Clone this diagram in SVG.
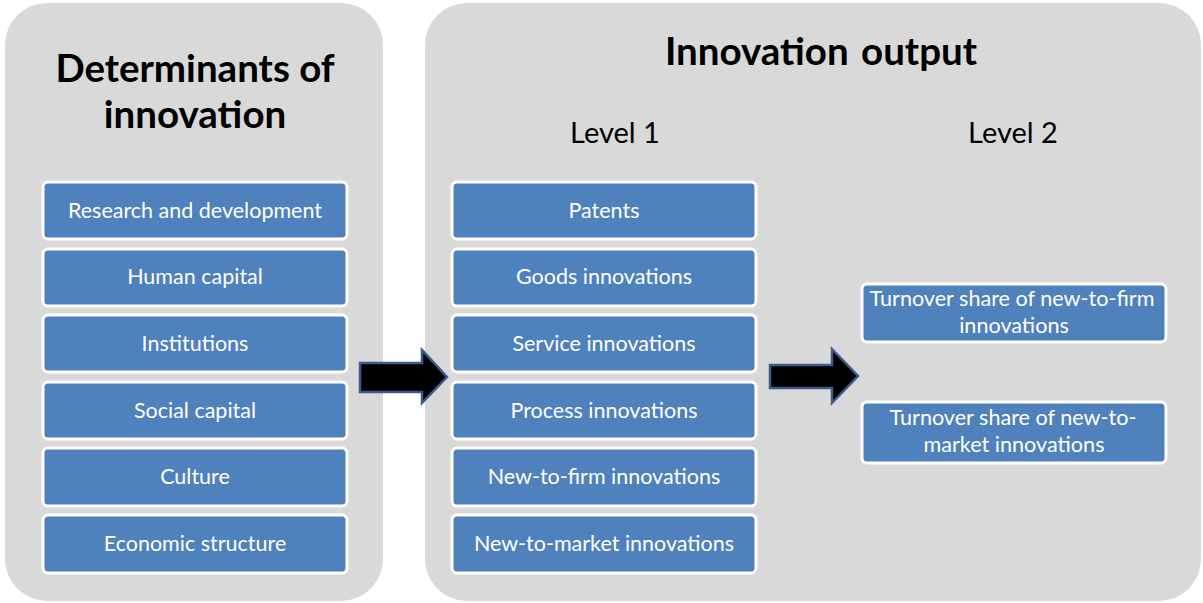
<svg xmlns="http://www.w3.org/2000/svg" width="1203" height="603" viewBox="0 0 1203 603">
<style>
.panel{fill:#d9d9d9}
.box{fill:#4f81bd;stroke:#ffffff;stroke-width:3}
.bt{font-family:Lato,"Liberation Sans",sans-serif;font-size:21.5px;fill:#ffffff;text-anchor:middle}
.bt2{font-family:Lato,"Liberation Sans",sans-serif;font-size:21.6px;fill:#ffffff;text-anchor:middle}
.title{font-family:Lato,"Liberation Sans",sans-serif;font-size:38.5px;font-weight:bold;fill:#000000;text-anchor:middle}
.lvl{font-family:Lato,"Liberation Sans",sans-serif;font-size:29px;fill:#000000;text-anchor:middle}
.arrow{fill:#000000;stroke:#385d8a;stroke-width:2.5;stroke-linejoin:miter}
</style>
<rect width="1203" height="603" fill="#ffffff"/>
<g id="panel-determinants">
<rect class="panel" x="5" y="3" width="378" height="598" rx="42"/>
<text class="title" x="195" y="82">Determinants of</text>
<text class="title" x="195" y="128">innovation</text>
</g>
<g id="panel-output">
<rect class="panel" x="425" y="3" width="776" height="598" rx="42"/>
<text class="title" x="821" y="65" style="word-spacing:3px">Innovation output</text>
<text class="lvl" x="615" y="143">Level 1</text>
<text class="lvl" x="1013" y="143">Level 2</text>
</g>
<g id="n-rd"><rect class="box" x="43" y="182" width="304" height="57" rx="5"/><text class="bt" x="195" y="218">Research and development</text></g>
<g id="n-human"><rect class="box" x="43" y="249" width="304" height="57" rx="5"/><text class="bt" x="195" y="284">Human capital</text></g>
<g id="n-inst"><rect class="box" x="43" y="315" width="304" height="57" rx="5"/><text class="bt" x="195" y="351">Institutions</text></g>
<g id="n-social"><rect class="box" x="43" y="382" width="304" height="57" rx="5"/><text class="bt" x="195" y="418">Social capital</text></g>
<g id="n-culture"><rect class="box" x="43" y="448" width="304" height="58" rx="5"/><text class="bt" x="195" y="484">Culture</text></g>
<g id="n-econ"><rect class="box" x="43" y="515" width="304" height="58" rx="5"/><text class="bt" x="195" y="551">Economic structure</text></g>
<g id="n-patents"><rect class="box" x="452" y="182" width="304" height="57" rx="5"/><text class="bt" x="604" y="218">Patents</text></g>
<g id="n-goods"><rect class="box" x="452" y="249" width="304" height="57" rx="5"/><text class="bt" x="604" y="284">Goods innovations</text></g>
<g id="n-service"><rect class="box" x="452" y="315" width="304" height="57" rx="5"/><text class="bt" x="604" y="351">Service innovations</text></g>
<g id="n-process"><rect class="box" x="452" y="382" width="304" height="57" rx="5"/><text class="bt" x="604" y="418">Process innovations</text></g>
<g id="n-ntf"><rect class="box" x="452" y="448" width="304" height="58" rx="5"/><text class="bt" x="604" y="484">New-to-firm innovations</text></g>
<g id="n-ntm"><rect class="box" x="452" y="515" width="304" height="58" rx="5"/><text class="bt" x="604" y="551">New-to-market innovations</text></g>
<g id="n-turn-firm"><rect class="box" x="862" y="284" width="304" height="58" rx="5"/><text class="bt2" x="1012" y="306">Turnover share of new-to-firm</text><text class="bt2" x="1014" y="333">innovations</text></g>
<g id="n-turn-market"><rect class="box" x="862" y="402" width="304" height="61" rx="5"/><text class="bt2" x="1013" y="425">Turnover share of new-to-</text><text class="bt2" x="1014" y="452">market innovations</text></g>
<g id="connectors">
<path class="arrow" d="M360,363 L422,363 L422,350 L447,377 L422,403 L422,392 L360,392 Z"/>
<path class="arrow" d="M770,365 L832,365 L832,349 L858,376 L832,403 L832,388 L770,388 Z"/>
</g>
</svg>
